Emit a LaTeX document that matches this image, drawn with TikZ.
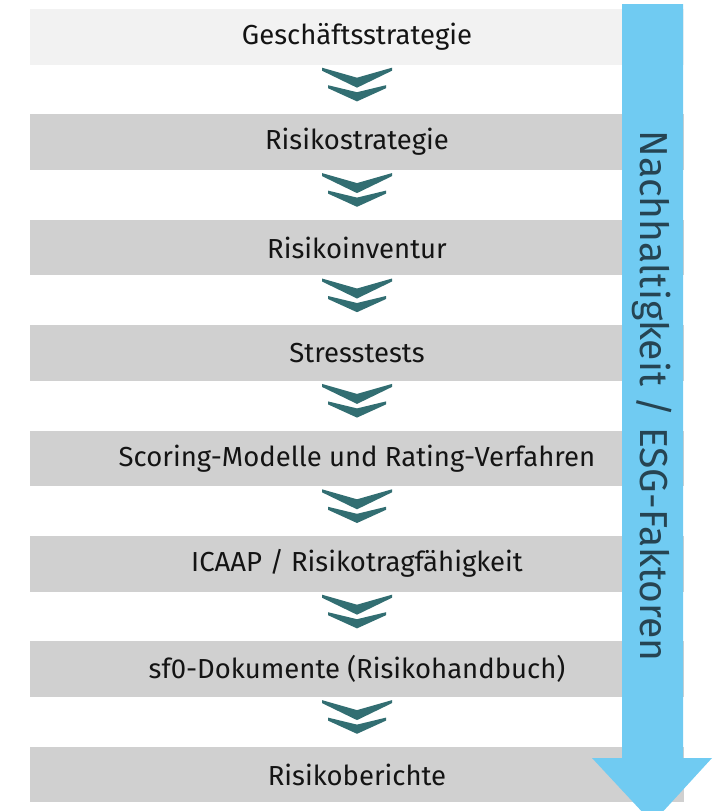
\documentclass[tikz,border=0pt]{standalone}
\usepackage{fontspec}
\setmainfont{Fira Sans}
\usepackage{tikz}

\definecolor{firstgray}{RGB}{242,242,242}
\definecolor{stagegray}{RGB}{208,208,208}
\definecolor{chevteal}{RGB}{50,110,114}
\definecolor{esgblue}{RGB}{112,203,242}
\definecolor{esgtext}{RGB}{38,68,82}
\definecolor{textblack}{RGB}{20,20,20}

\begin{document}
\begin{tikzpicture}[x=1pt,y=-1pt,
	stage/.style={shape=rectangle,fill=stagegray,minimum width=654pt,minimum height=55.5pt,inner sep=0pt,text=textblack,font=\fontsize{27.5}{30}\selectfont},
	chev/.pic={
		\fill[chevteal] (-35,3) -- (0,13) -- (35,3) -- (35,6) -- (0,23) -- (-35,6) -- cycle;
		\fill[chevteal] (-29,20.5) -- (0,27.5) -- (29,20.5) -- (29,23.5) -- (0,36.7) -- (-29,23.5) -- cycle;
	}]
	\useasboundingbox (0,0) rectangle (712,811);

	\node[stage,fill=firstgray] (gs) at (357,36.75)  {Geschäftsstrategie};
	\node[stage] (rs)  at (357,142.15) {Risikostrategie};
	\node[stage] (ri)  at (357,247.55) {Risikoinventur};
	\node[stage] (st)  at (357,352.95) {Stresstests};
	\node[stage] (sm)  at (357,458.35) {Scoring-Modelle und Rating-Verfahren};
	\node[stage] (ic)  at (357,563.75) {ICAAP / Risikotragfähigkeit};
	\node[stage] (sf)  at (357,669.15) {sf0-Dokumente (Risikohandbuch)};
	\node[stage] (rb)  at (357,774.55) {Risikoberichte};

	\pic at (gs.south) {chev};
	\pic at (rs.south) {chev};
	\pic at (ri.south) {chev};
	\pic at (st.south) {chev};
	\pic at (sm.south) {chev};
	\pic at (ic.south) {chev};
	\pic at (sf.south) {chev};

	\fill[esgblue] (622,4) -- (683,4) -- (683,758) -- (712,758) -- (652.5,823) -- (592,758) -- (622,758) -- cycle;
	\node[rotate=-90,text=esgtext,font=\fontsize{39}{42}\selectfont] (esg) at (652.5,396) {Nachhaltigkeit / ESG-Faktoren};

\end{tikzpicture}
\end{document}
